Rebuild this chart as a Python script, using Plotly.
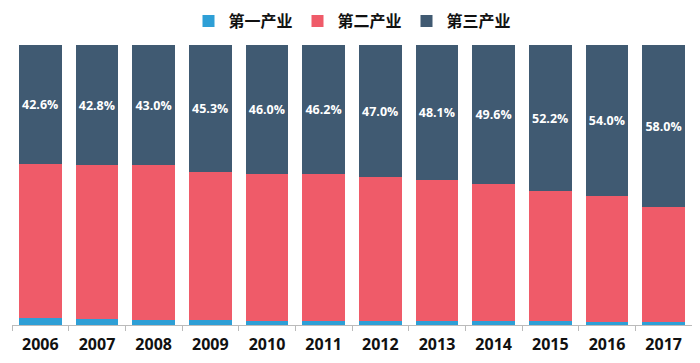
import plotly.graph_objects as go

years = ["2006", "2007", "2008", "2009", "2010", "2011", "2012", "2013", "2014", "2015", "2016", "2017"]
primary = [2.5, 2.0, 1.7, 1.7, 1.6, 1.4, 1.3, 1.3, 1.3, 1.3, 1.2, 0.9]
tertiary = [42.6, 42.8, 43.0, 45.3, 46.0, 46.2, 47.0, 48.1, 49.6, 52.2, 54.0, 58.0]
secondary = [round(100 - p - t, 1) for p, t in zip(primary, tertiary)]
tertiary_labels = [f"{v:.1f}%" for v in tertiary]

font_family = "Open Sans, Noto Sans CJK SC, sans-serif"

fig = go.Figure()
fig.add_bar(x=years, y=primary, name="第一产业", marker_color="#2E9FD6",
            marker_line_width=0)
fig.add_bar(x=years, y=secondary, name="第二产业", marker_color="#EF5B69",
            marker_line_width=0)
fig.add_bar(x=years, y=tertiary, name="第三产业", marker_color="#405A72",
            marker_line_width=0, text=tertiary_labels, textposition="inside",
            insidetextanchor="middle", textangle=0,
            textfont=dict(color="white", size=13, family=font_family, weight="bold"))

fig.update_layout(
    barmode="stack",
    bargap=0.25,
    width=692, height=355,
    margin=dict(l=4, r=8, t=37, b=38, autoexpand=False),
    plot_bgcolor="white", paper_bgcolor="white",
    showlegend=True,
    legend=dict(orientation="h", x=0.5, xanchor="center",
                y=0.963, yanchor="middle", yref="container",
                font=dict(size=16, family="Noto Sans CJK SC", color="#111", weight="bold"),
                traceorder="normal", itemsizing="constant",
                entrywidth=64, tracegroupgap=0),
    uniformtext=dict(mode=False),
)
fig.update_xaxes(showline=True, linecolor="#BBBBBB", linewidth=1,
                 ticks="outside", tickson="boundaries", ticklen=5, tickcolor="#BBBBBB",
                 ticklabelstandoff=5,
                 tickfont=dict(size=16, family=font_family, color="#111", weight="bold"),
                 showgrid=False)
fig.update_yaxes(range=[0, 100], visible=False, showgrid=False)

fig.write_html("out.html")
